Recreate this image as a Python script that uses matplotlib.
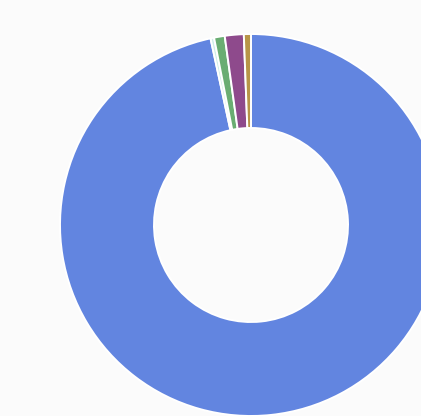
import matplotlib
matplotlib.use("Agg")
import matplotlib.pyplot as plt

# share of each category, clockwise from twelve o'clock
labels = ["A", "B", "C", "D", "E"]
shares = [96.6, 0.3, 0.9, 1.6, 0.6]
colors = ["#6285e0", "#cfeee8", "#6aad72", "#8e4a8c", "#b89548"]

fig = plt.figure(figsize=(4.21, 4.16), dpi=100, facecolor="#fbfbfb")
ax = fig.add_axes([0, 0, 1, 1])
ax.set_facecolor("#fbfbfb")

ax.pie(
    shares,
    colors=colors,
    startangle=90,
    counterclock=False,
    center=(251, 191),
    radius=191,
    frame=True,
    wedgeprops=dict(width=94, edgecolor="white", linewidth=1.4),
)

ax.set_xlim(0, 421)
ax.set_ylim(0, 416)
ax.set_aspect("equal")
ax.axis("off")

fig.savefig("out.png", dpi=100, facecolor=fig.get_facecolor())
